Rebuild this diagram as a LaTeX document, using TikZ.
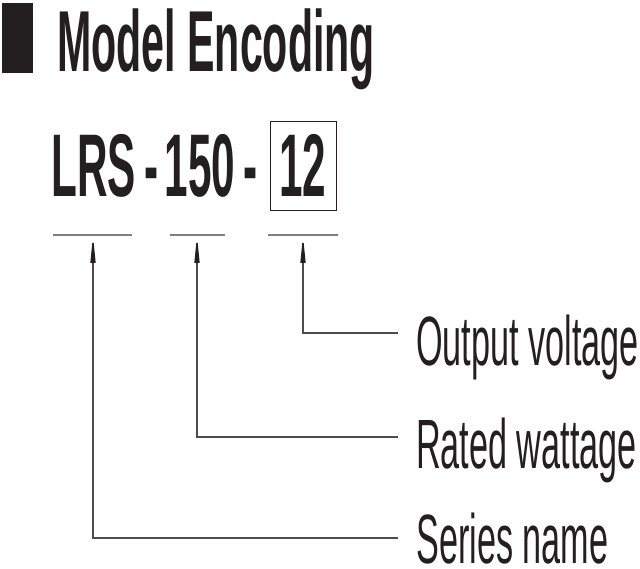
\documentclass[tikz,border=0pt]{standalone}
\usepackage{fontspec}
\setmainfont{Liberation Sans}
\newfontfamily\narrowbf[FakeStretch=0.475]{Liberation Sans Bold}
\newfontfamily\narrowrm[FakeStretch=0.49]{Liberation Sans}
\usetikzlibrary{arrows.meta}
\definecolor{ink}{HTML}{231F20}
\definecolor{rulegray}{HTML}{808080}
\definecolor{leadgray}{HTML}{4D4D4D}
\tikzset{
  headtxt/.style={anchor=base west, inner sep=0, text=ink, font=\narrowbf\fontsize{86.6pt}{90pt}\selectfont},
  codetxt/.style={anchor=base, inner sep=0, text=ink, font=\narrowbf\fontsize{89pt}{90pt}\selectfont},
  fieldtxt/.style={anchor=base west, inner sep=0, text=ink, font=\narrowrm\fontsize{69.8pt}{72pt}\selectfont},
  uline/.style={rulegray, line width=2.5pt},
  pointer/.style={leadgray, line width=1.4pt, -{Triangle[length=28pt,width=5pt,color=ink]}}
}
\begin{document}
\begin{tikzpicture}[x=1pt,y=-1pt]
\useasboundingbox (0,0) rectangle (640,569);
\fill[ink] (2,3) rectangle (33,73);
\node[headtxt] (head) at (57,72) {Model Encoding};
\node[codetxt] (series) at (93.5,197) {LRS};
\node[codetxt] (dash1) at (152,197) {-};
\node[codetxt] (watt) at (200,197) {150};
\node[codetxt] (dash2) at (251,197) {-};
\node[codetxt, draw=ink, line width=1pt, text height=75pt, text depth=14pt, minimum width=66pt] (volt) at (303,197) {12};
\draw[uline] (53,235) -- (132,235);
\draw[uline] (170,235) -- (225,235);
\draw[uline] (268,235) -- (338,235);
\coordinate (useries) at (93,235);
\coordinate (uwatt) at (197,235);
\coordinate (uvolt) at (303,235);
\coordinate (lvolt) at (398,333);
\coordinate (lwatt) at (398,437);
\coordinate (lseries) at (398,538);
\node[fieldtxt] (voltlbl) at (416,365) {Output voltage};
\node[fieldtxt] (wattlbl) at (416,468) {Rated wattage};
\node[fieldtxt, text depth=0pt] (serieslbl) at (416,563) {Series name};
\draw[pointer] (lvolt) -| (uvolt);
\draw[pointer] (lwatt) -| (uwatt);
\draw[pointer] (lseries) -| (useries);
\end{tikzpicture}
\end{document}
